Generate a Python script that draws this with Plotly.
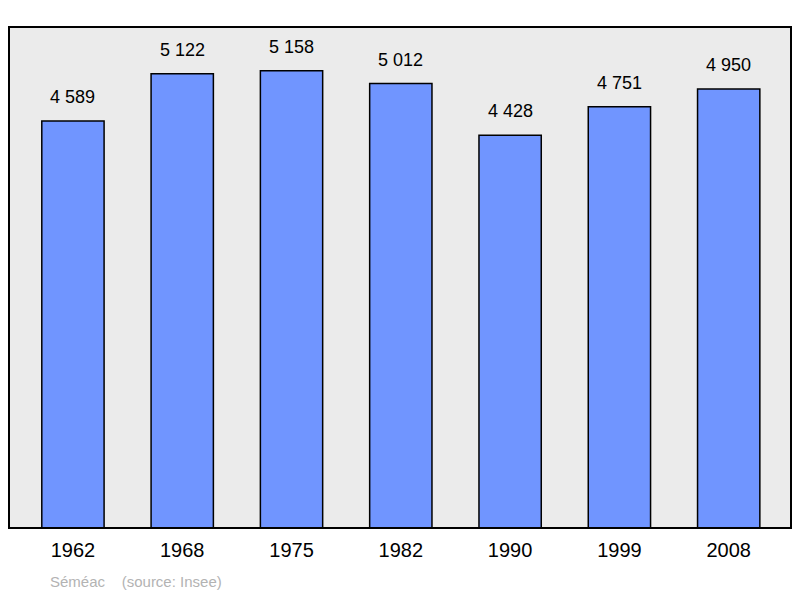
import plotly.graph_objects as go

years = ["1962", "1968", "1975", "1982", "1990", "1999", "2008"]
population = [4589, 5122, 5158, 5012, 4428, 4751, 4950]
labels = ["4 589", "5 122", "5 158", "5 012", "4 428", "4 751", "4 950"]

xs = list(range(len(years)))
fig = go.Figure(go.Bar(
    x=xs, y=population,
    marker=dict(color="#7095ff", line=dict(color="black", width=1.5)),
    width=0.57))

ann = [dict(x=x, y=v, text=t, showarrow=False, yanchor="bottom", yshift=12,
            font=dict(size=18, color="black", family="Liberation Sans"))
       for x, v, t in zip(xs, population, labels)]
ann.append(dict(text="Séméac    (source: Insee)", xref="paper", yref="paper",
                x=0.05, y=-0.085, yanchor="top", xanchor="left", showarrow=False,
                font=dict(size=15, color="#b3b3b3")))

fig.update_layout(
    width=792, height=590, margin=dict(l=1, r=9, t=19, b=70),
    paper_bgcolor="white", plot_bgcolor="#ebebeb", showlegend=False,
    font=dict(family="Liberation Sans"),
    xaxis=dict(range=[-0.585, 6.57], tickvals=xs, ticktext=years,
               showgrid=False, zeroline=False, ticks="", tickfont=dict(size=20, color="black")),
    yaxis=dict(range=[0, 5650], visible=False, showgrid=False),
    shapes=[dict(type="rect", xref="paper", yref="paper", x0=0, x1=1, y0=0, y1=1,
                 line=dict(color="black", width=2), layer="above")],
    annotations=ann,
)
fig.update_xaxes(ticklabelstandoff=8)
fig.write_html("out.html")
